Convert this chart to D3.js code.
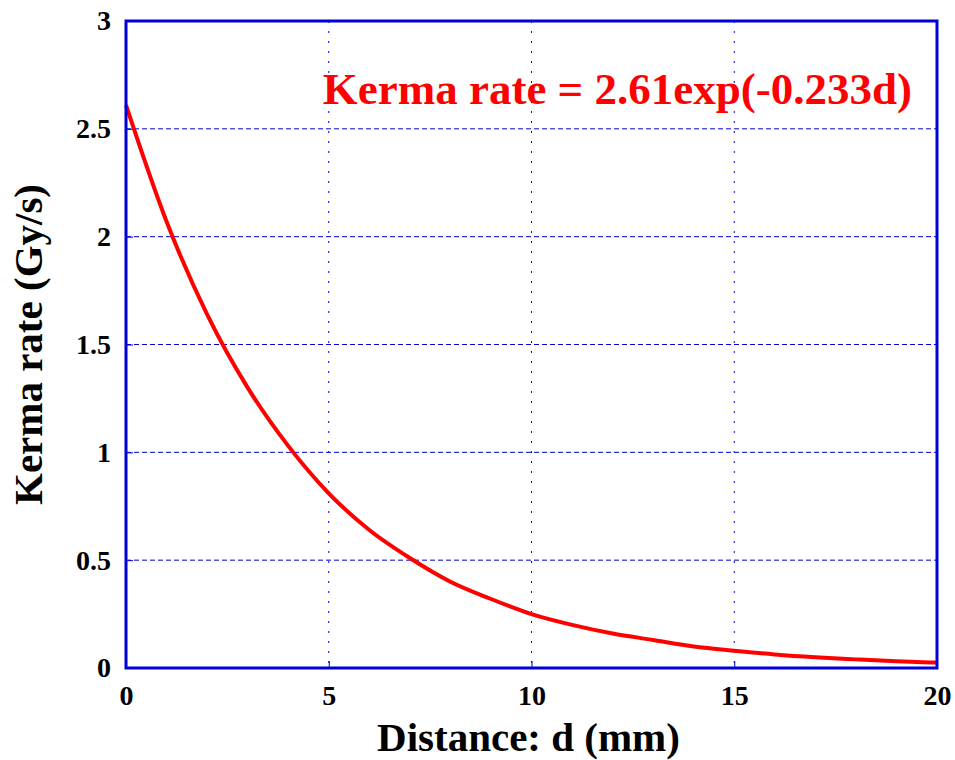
<!DOCTYPE html>
<html>
<head>
<meta charset="utf-8">
<script src="https://cdn.jsdelivr.net/npm/d3@7"></script>
<style>
  body { margin: 0; background: #fff; }
  svg { display: block; }
  text { font-family: "Liberation Serif", "Times New Roman", serif; font-weight: bold; }
</style>
</head>
<body>
<svg id="chart" width="955" height="760"></svg>
<script>
// values, one per mm
var distance = [0, 1, 2, 3, 4, 5, 6, 7, 8, 9, 10, 11, 12, 13, 14, 15, 16, 17, 18, 19, 20];
var kerma = [2.61, 2.07, 1.64, 1.30, 1.03, 0.81, 0.64, 0.51, 0.40, 0.32, 0.25,
             0.20, 0.16, 0.13, 0.10, 0.08, 0.063, 0.05, 0.04, 0.031, 0.025];
var xTicks = [0, 5, 10, 15, 20];
var yTicks = [0, 0.5, 1, 1.5, 2, 2.5, 3];
var xTitle = "Distance: d (mm)";
var yTitle = "Kerma rate (Gy/s)";
var fitLabel = "Kerma rate = 2.61exp(-0.233d)";

var svg = d3.select("#chart");
var plotL = 126, plotR = 937, plotT = 21, plotB = 668;

var x = d3.scaleLinear().domain([0, 20]).range([plotL, plotR]);
var y = d3.scaleLinear().domain([0, 3]).range([plotB, plotT]);

var blue = "#0000d8";

// grid
svg.append("g").selectAll("line")
  .data(yTicks.filter(function(d) { return d > 0 && d < 3; }))
  .enter().append("line")
  .attr("x1", plotL).attr("x2", plotR)
  .attr("y1", function(d) { return y(d); })
  .attr("y2", function(d) { return y(d); })
  .attr("stroke", blue).attr("stroke-width", 1)
  .attr("stroke-dasharray", "5,3");

svg.append("g").selectAll("line")
  .data(xTicks.filter(function(d) { return d > 0 && d < 20; }))
  .enter().append("line")
  .attr("y1", plotT).attr("y2", plotB)
  .attr("x1", function(d) { return x(d); })
  .attr("x2", function(d) { return x(d); })
  .attr("stroke", blue).attr("stroke-width", 1)
  .attr("stroke-dasharray", "2,8");

// axes with inward ticks
var xAxis = svg.append("g")
  .attr("transform", "translate(0," + plotB + ")")
  .call(d3.axisBottom(x).tickValues(xTicks).tickSizeInner(-7).tickSizeOuter(0).tickPadding(17));
var yAxis = svg.append("g")
  .attr("transform", "translate(" + plotL + ",0)")
  .call(d3.axisLeft(y).tickValues(yTicks).tickSizeInner(-7).tickSizeOuter(0).tickPadding(15)
    .tickFormat(function(d) { return String(d); }));

[xAxis, yAxis].forEach(function(a) {
  a.select(".domain").remove();
  a.selectAll(".tick line").attr("stroke", blue).attr("stroke-width", 1);
  a.selectAll(".tick text").attr("fill", "#000")
    .style("font-family", "Liberation Serif").style("font-weight", "bold").style("font-size", "28px");
});

// curve
var line = d3.line()
  .x(function(d, i) { return x(distance[i]); })
  .y(function(d) { return y(d); })
  .curve(d3.curveMonotoneX);

svg.append("path")
  .datum(kerma)
  .attr("d", line)
  .attr("fill", "none")
  .attr("stroke", "#ff0000")
  .attr("stroke-width", 4);

// frame
svg.append("rect")
  .attr("x", plotL).attr("y", plotT)
  .attr("width", plotR - plotL).attr("height", plotB - plotT)
  .attr("fill", "none").attr("stroke", blue).attr("stroke-width", 3);

// titles
svg.append("text")
  .attr("x", (plotL + plotR) / 2 - 3).attr("y", 751)
  .attr("text-anchor", "middle")
  .style("font-size", "41px")
  .text(xTitle);

svg.append("text")
  .attr("transform", "translate(42," + ((plotT + plotB) / 2) + ") rotate(-90)")
  .attr("text-anchor", "middle")
  .style("font-size", "41px")
  .text(yTitle);

svg.append("text")
  .attr("x", 912).attr("y", 104)
  .attr("text-anchor", "end")
  .attr("fill", "#ff0000")
  .style("font-size", "45px")
  .text(fitLabel);
</script>
</body>
</html>
